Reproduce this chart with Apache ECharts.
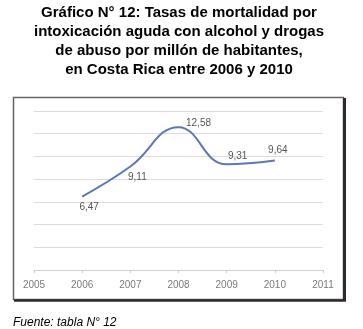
<!DOCTYPE html>
<html>
<head>
<meta charset="utf-8">
<title>Gráfico N° 12</title>
<script src="https://cdn.jsdelivr.net/npm/echarts@6/dist/echarts.min.js"></script>
<style>
  html, body { margin: 0; padding: 0; background: #fff; }
  #main { width: 363px; height: 329px; }
</style>
</head>
<body>
<div id="main"></div>
<script type="text/javascript">
// data
var years = [2006, 2007, 2008, 2009, 2010];
var rates = [6.47, 9.11, 12.58, 9.31, 9.64];
var xTicks = [2005, 2006, 2007, 2008, 2009, 2010, 2011];

// label placement per point (position, offset)
var labelPlace = [
  ['bottom', [7, 0]],
  ['bottom', [7, 0]],
  ['right', [2, -4]],
  ['top', [11, 2]],
  ['top', [3, 0]]
];

var titleText = 'Gráfico N° 12: Tasas de mortalidad por\nintoxicación aguda con alcohol y drogas\nde abuso por millón de habitantes,\nen Costa Rica entre 2006 y 2010';

var myChart = echarts.init(document.getElementById('main'));

var points = [];
for (var i = 0; i < years.length; i++) {
  points.push({
    value: [years[i], rates[i]],
    label: { show: true, position: labelPlace[i][0], offset: labelPlace[i][1] }
  });
}

var option = {
  animation: false,
  title: {
    text: 'Fuente: tabla N° 12',
    left: 8,
    top: 312,
    textStyle: {
      fontFamily: 'Liberation Sans, Arial, sans-serif',
      fontStyle: 'italic',
      fontWeight: 'normal',
      fontSize: 12,
      color: '#000'
    }
  },
  graphic: [
    {
      type: 'text', silent: true,
      style: {
        text: titleText,
        x: 179, y: 3,
        align: 'center',
        verticalAlign: 'top',
        fontFamily: 'Liberation Sans, Arial, sans-serif',
        fontWeight: 'bold',
        fontSize: 15,
        lineHeight: 19,
        fill: '#000'
      }
    },
    {
      type: 'rect', z: -1, silent: true,
      shape: { x: 13.5, y: 97.5, width: 330, height: 202 },
      style: { fill: '#fff', stroke: '#6a6360', lineWidth: 1.5 }
    },
    {
      type: 'line', z: -1, silent: true,
      shape: { x1: 344.5, y1: 98, x2: 344.5, y2: 301 },
      style: { stroke: '#2e2a28', lineWidth: 3 }
    },
    {
      type: 'line', z: -1, silent: true,
      shape: { x1: 14, y1: 300.5, x2: 346, y2: 300.5 },
      style: { stroke: '#2e2a28', lineWidth: 2.5 }
    }
  ],
  grid: { left: 34, right: 40, top: 111, bottom: 59 },
  xAxis: {
    type: 'value',
    min: xTicks[0],
    max: xTicks[xTicks.length - 1],
    interval: 1,
    splitLine: { show: false },
    axisLine: { lineStyle: { color: '#d0d0d0', width: 1 } },
    axisTick: { show: true, length: 3, inside: false, lineStyle: { color: '#c8c8c8' } },
    axisLabel: {
      margin: 10,
      fontFamily: 'Liberation Sans, Arial, sans-serif',
      fontSize: 10,
      color: '#7a7a7a',
      formatter: function (v) { return String(v); }
    }
  },
  yAxis: {
    type: 'value',
    min: 0,
    max: 14,
    interval: 2,
    axisLabel: { show: false },
    axisLine: { show: false },
    axisTick: { show: false },
    splitLine: { lineStyle: { color: '#dcdcdc', width: 1 } }
  },
  series: [
    {
      type: 'line',
      data: points,
      smooth: 0.45,
      symbol: 'circle',
      symbolSize: 1,
      showSymbol: true,
      itemStyle: { color: 'rgba(0,0,0,0)' },
      lineStyle: { color: '#5b77b5', width: 2 },
      label: {
        show: true,
        distance: 5,
        fontFamily: 'Liberation Sans, Arial, sans-serif',
        fontSize: 10,
        color: '#555',
        formatter: function (p) { return p.value[1].toFixed(2).replace('.', ','); }
      }
    }
  ]
};

myChart.setOption(option);
</script>
</body>
</html>
